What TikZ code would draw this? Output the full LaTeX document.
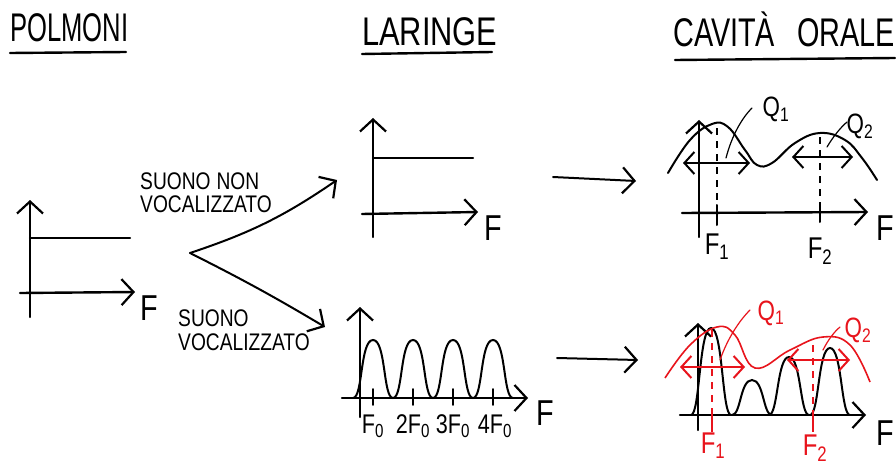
\documentclass[tikz,border=0pt]{standalone}
\usepackage{fontspec}
\newfontfamily\hand[FakeStretch=0.8]{Liberation Sans}
\newfontfamily\handA[FakeStretch=0.64]{Liberation Sans}
\newfontfamily\handB[FakeStretch=0.77]{Liberation Sans}
\newfontfamily\handC[FakeStretch=0.72]{Liberation Sans}
\usetikzlibrary{arrows.meta}
\definecolor{pen}{RGB}{232,20,28}
\begin{document}
\begin{tikzpicture}[x=1pt,y=-1pt,
  tipend/.style={-{Straight Barb[length=12pt,width=26pt,line width=2.2pt]}},
  tipboth/.style={{Straight Barb[length=10pt,width=22pt,line width=2pt]}-{Straight Barb[length=10pt,width=22pt,line width=2pt]}},
  axis/.style={line width=2.4pt,line cap=round},
  curve/.style={line width=2pt,line cap=round},
  thin/.style={line width=1.2pt,line cap=round},
  title/.style={inner sep=0pt,anchor=base west},
  small/.style={font=\hand\fontsize{24}{24}\selectfont,inner sep=0pt,anchor=base west},
  flab/.style={font=\hand\fontsize{36}{36}\selectfont,inner sep=0pt,anchor=base west},
  tlab/.style={font=\hand\fontsize{30}{30}\selectfont,inner sep=0pt,anchor=base},
  qlab/.style={font=\hand\fontsize{28}{28}\selectfont,inner sep=0pt,anchor=base},
  dashline/.style={line width=1.3pt,dash pattern=on 7pt off 6pt},
  redpen/.style={color=pen}]
\useasboundingbox (0,0) rectangle (896,468);
\fill[white] (0,0) rectangle (896,468);

% ---------- titles
\node[title,font=\handA\fontsize{40}{40}\selectfont] (tpol) at (10,42) {POLMONI};
\draw[axis] (10,53) -- (126,52);
\node[title,font=\handB\fontsize{40}{40}\selectfont] (tlar) at (362,46) {LARINGE};
\draw[axis] (362,54) -- (492,52);
\node[title,font=\handC\fontsize{40}{40}\selectfont] (tcav) at (673,47) {CAVITÀ\hspace{22pt}ORALE};
\draw[axis] (675,60) -- (895,58);

% ---------- polmoni
\draw[axis,tipend] (30,317) -- (30,200);
\draw[axis,tipend] (20,293) -- (135,292);
\draw[axis] (30,238) -- (130,238);
\node[flab] (fpol) at (140,320) {F};

% ---------- branches
\coordinate (split) at (190,253);
\coordinate (up) at (337,180);
\coordinate (dn) at (325,327);
\draw[curve,tipend] (split) to[bend right=8] (up);
\draw[curve,tipend] (split) to[bend left=2] (dn);
\node[small] (snv1) at (140,189) {SUONO\hspace{6pt}NON};
\node[small] (snv2) at (140,212) {VOCALIZZATO};
\node[small] (sv1) at (178,326) {SUONO};
\node[small] (sv2) at (178,350) {VOCALIZZATO};

% ---------- laringe top
\draw[axis,tipend] (373,237) -- (373,118);
\draw[axis,tipend] (362,214) -- (478,212);
\draw[axis] (373,158) -- (473,158);
\node[flab] (flt) at (484,240) {F};

% ---------- laringe bottom
\draw[axis,tipend] (360,417) -- (360,307);
\draw[axis,tipend] (342,398) -- (528,398);
\draw[curve] (353,398) foreach \c in {373,413,453,493} {
  .. controls ({\c-10},398) and ({\c-13},340) .. (\c,340)
  .. controls ({\c+13},340) and ({\c+10},398) .. ({\c+20},398)};
\foreach \c in {373,413,453,493} \draw[thin,line width=1.6pt] (\c,389) -- (\c,405);
\node[tlab,font=\hand\fontsize{27}{27}\selectfont] (f0) at (373,433) {F\textsubscript{0}};
\node[tlab,font=\hand\fontsize{27}{27}\selectfont] (f02) at (413,433) {2F\textsubscript{0}};
\node[tlab,font=\hand\fontsize{27}{27}\selectfont] (f03) at (453,433) {3F\textsubscript{0}};
\node[tlab,font=\hand\fontsize{27}{27}\selectfont] (f04) at (495,433) {4F\textsubscript{0}};
\node[flab] (flb) at (536,425) {F};

% ---------- arrows to cavita
\coordinate (a1s) at (553,177);
\coordinate (a1e) at (636,181);
\coordinate (a2s) at (557,358);
\coordinate (a2e) at (638,360);
\draw[curve,tipend] (a1s) -- (a1e);
\draw[curve,tipend] (a2s) -- (a2e);

% ---------- cavita top
\draw[axis,tipend] (699,237) -- (699,120);
\draw[axis,tipend] (682,213) -- (868,212);
\node[flab] (fct) at (876,240) {F};
\draw[curve] plot[smooth,tension=0.7] coordinates {(668,173) (690,140) (712,124) (728,127) (745,150) (757,165) (772,163) (795,143) (820,133) (845,140) (862,158) (877,180)};
\draw[dashline] (717,128) -- (717,205);
\draw[thin,line width=2pt] (717,205) -- (717,225);
\draw[dashline] (820,137) -- (820,205);
\draw[thin,line width=2pt] (820,205) -- (820,222);
\draw[curve,tipboth] (683,163) -- (750,163);
\draw[curve,tipboth] (792,157) -- (853,157);
\node[tlab] (f1t) at (717,254) {F\textsubscript{1}};
\node[tlab] (f2t) at (820,258) {F\textsubscript{2}};
\node[qlab] (q1t) at (776,117) {Q\textsubscript{1}};
\node[qlab] (q2t) at (860,133) {Q\textsubscript{2}};
\draw[thin] (726,158) .. controls (732,135) and (742,118) .. (752,108);
\draw[thin] (827,147) .. controls (833,137) and (840,128) .. (847,122);

% ---------- cavita bottom
\draw[axis,tipend] (698,430) -- (698,323);
\draw[axis,tipend] (680,415) -- (866,415);
\node[flab] (fcb) at (876,445) {F};
\foreach \c/\t in {711/328,752/380,789/357,830/348}
  \draw[curve] ({\c-20},415) .. controls ({\c-11},415) and ({\c-12},\t) .. (\c,\t)
    .. controls ({\c+12},\t) and ({\c+11},415) .. ({\c+20},415);
\draw[redpen,line width=1.6pt] plot[smooth,tension=0.7] coordinates {(665,378) (690,345) (717,327) (735,335) (755,368) (790,350) (823,337) (850,345) (870,382)};
\draw[redpen,dashline] (712,330) -- (712,410);
\draw[redpen,line width=2pt] (712,410) -- (712,432);
\draw[redpen,dashline] (813,345) -- (813,410);
\draw[redpen,line width=2pt] (813,410) -- (813,432);
\draw[redpen,curve,tipboth] (680,367) -- (745,367);
\draw[redpen,curve,tipboth] (787,360) -- (850,360);
\node[redpen,tlab] (f1b) at (713,453) {F\textsubscript{1}};
\node[redpen,tlab] (f2b) at (815,455) {F\textsubscript{2}};
\node[redpen,qlab] (q1b) at (771,320) {Q\textsubscript{1}};
\node[redpen,qlab] (q2b) at (858,337) {Q\textsubscript{2}};
\draw[redpen,thin] (720,360) .. controls (727,340) and (738,322) .. (750,310);
\draw[redpen,thin] (823,350) .. controls (828,340) and (834,332) .. (840,327);
\end{tikzpicture}
\end{document}
